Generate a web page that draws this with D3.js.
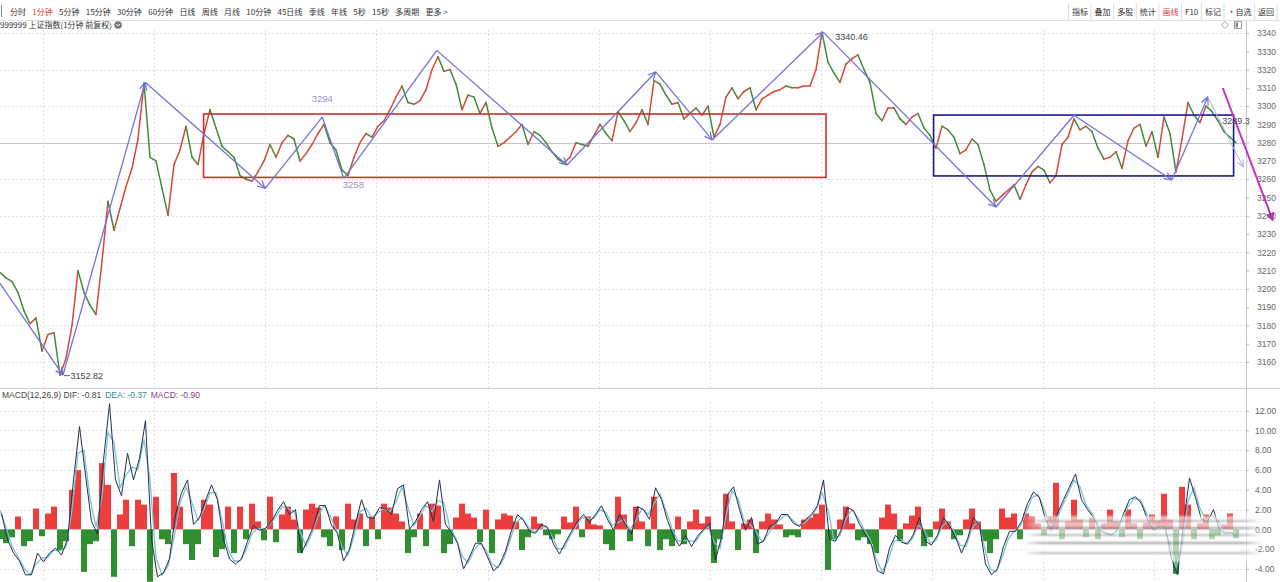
<!DOCTYPE html>
<html><head><meta charset="utf-8">
<script src="https://cdn.jsdelivr.net/npm/d3@7"></script>
<style>
html,body{margin:0;padding:0;background:#fff;overflow:hidden;}
svg{display:block;font-family:"Liberation Sans",Arial,"Noto Sans CJK SC",sans-serif;}
</style></head><body>
<svg id="c" width="1280" height="582"></svg>
<script>
// ---------- data ----------
const closes = [
3209,3206,3204,3198,3188,3181,3184,3166,3175,3176,
3152.82,3162,3180,3210,3198,3191,3186,3215,3248,3232,
3244,3256,3266,3282,3312.6,3272,3270,3255,3240.4,3268,
3276,3289,3272,3268,3285,3298,3288,3278,3275,3272,
3262,3260,3259,3264,3270,3279,3272,3280,3284,3282,
3270,3274,3279,3285,3290,3280,3276,3265,3262,3272,
3280,3285,3283,3289,3292,3298,3305,3311,3302,3301,
3303,3309,3320,3327,3319,3320,3312,3298,3306,3305,
3296,3302,3288,3278,3280,3283,3286,3290,3279,3286,
3284,3280,3275,3271,3269,3272,3280,3279,3278,3284,
3290,3285,3281,3297,3292,3286,3291,3298,3290,3314,
3312,3306,3301,3302,3293,3296,3299,3295,3300,3283,
3290,3305,3310,3304,3308,3310,3298,3304,3306,3308,
3309,3311,3310,3310,3311,3311,3320,3340.46,3324,3318,
3313,3323,3326,3328,3320,3313,3296,3292,3299,3299,
3293,3290,3294,3296,3288,3284,3277,3289,3287,3283,
3274,3276,3282,3279,3268,3254,3248,3251,3254,3257,
3249,3257,3264,3267,3265,3258,3262,3279,3283,3293,
3287,3289,3286,3277,3271,3272,3275,3266,3281,3288,
3290,3278,3286,3272,3294,3285,3264,3282,3302,3295,
3291,3300,3297,3292,3286,3283,3280];

const macdHist = [
-1.0,-1.4,-0.8,1.3,-1.7,-1.2,2.1,-0.7,1.6,2.3,
-2.1,-1.2,4.0,6.0,-4.3,-1.5,-1.2,6.7,4.5,-4.8,
1.5,3.0,-1.7,3.0,2.5,-5.3,3.3,-1.0,-1.5,5.7,
2.3,-1.5,-3.1,-1.5,3.0,2.5,-2.8,-2.0,2.3,-2.4,
2.3,-1.0,2.6,0.8,-1.1,3.3,-1.3,1.5,2.3,1.0,
-2.4,2.0,2.6,2.2,-0.8,-1.7,1.3,-2.1,2.6,1.0,
1.6,-1.7,1.3,-1.0,2.6,2.2,1.6,0.8,-2.4,-0.8,
1.6,-1.7,2.6,2.4,-2.4,-1.5,1.2,2.6,1.6,1.2,
-1.3,2.0,-2.4,1.0,1.6,1.4,0.8,-2.1,-0.8,1.3,
0.6,-0.6,-1.0,-0.5,1.3,0.7,2.3,-0.8,1.3,0.5,
0.4,-1.5,-2.1,3.3,1.5,-1.2,2.3,0.8,-1.7,3.3,
-2.1,-1.0,-1.7,1.3,-1.5,0.8,2.0,0.6,1.3,-3.4,
-1.0,3.6,0.8,-2.1,0.6,1.0,-2.4,0.8,1.6,1.0,
0.5,-0.8,-0.6,-0.8,1.0,1.2,1.6,2.5,-4.1,-1.0,
1.0,2.3,0.6,-1.1,-0.8,-1.5,-2.4,1.2,2.5,1.6,
-1.2,0.6,1.4,2.3,-1.7,-0.8,0.8,2.1,0.8,-1.0,
-0.6,1.0,2.1,0.8,-1.2,-2.4,-1.0,2.1,1.2,1.6,
-1.0,1.6,1.3,0.6,-0.6,1.3,4.7,-1.0,0.8,3.0,
1.0,-0.8,1.2,-1.0,0.6,2.0,0.8,-0.8,2.0,0.6,
-1.0,0.7,1.5,0.9,3.6,1.0,-4.5,4.3,2.5,-1.0,
0.6,1.5,-1.0,-0.6,0.5,1.6,-0.9];

const difLine = [
1.6,-1.0,-2.4,-3.2,-4.6,-4.6,-2.4,-3.3,-2.4,-1.9,
-2.6,-1.0,5.0,10.4,5.5,0.8,-0.5,7.0,12.7,5.0,
3.4,7.7,5.0,7.2,11.0,-1.0,-4.8,-4.4,-3.0,1.5,
3.7,5.0,0.5,1.2,2.9,4.5,3.0,-1.0,-3.0,-3.5,
-3.0,-1.2,0.4,-0.1,0.1,0.8,1.9,2.8,1.5,2.0,
-2.4,-1.1,0.3,2.4,2.4,0.4,-0.4,-3.2,-2.0,0.6,
3.0,1.2,1.1,2.2,2.1,1.5,4.1,4.5,0.0,0.8,
2.0,2.8,0.8,5.0,0.5,-0.3,-1.4,-4.0,-2.8,-1.4,
-1.4,-2.8,-4.2,-3.6,-2.2,-0.1,1.5,0.9,-0.2,-0.4,
0.5,0.2,-1.5,-2.5,-1.3,-0.2,0.8,1.5,0.7,1.5,
2.4,1.0,-0.1,1.5,0.5,-0.5,2.3,2.0,1.0,4.2,
3.0,0.9,-0.7,-1.7,-0.6,-1.75,-0.7,0.0,0.6,-3.1,
-0.8,3.5,4.3,2.0,-0.1,1.2,-1.5,-1.2,0.3,0.6,
1.5,1.5,0.6,0.3,1.0,1.5,2.4,5.0,-1.0,-1.2,
0.0,2.2,1.9,0.5,-0.5,-1.6,-4.2,-4.5,-1.9,-0.6,
-1.3,-1.5,-0.5,1.2,-1.2,-1.6,-0.6,1.2,0.4,-0.8,
-2.4,-1.0,1.2,0.4,-3.5,-4.6,-4.0,-1.75,-0.2,-0.2,
0.8,2.6,3.8,3.2,1.0,-0.1,1.6,3.0,4.3,5.6,
3.0,2.0,1.2,-0.1,-0.4,-0.6,0.0,1.6,3.0,3.3,
2.6,1.0,-0.1,0.3,0.2,-3.0,-4.6,0.5,5.2,3.2,
1.0,0.8,2.0,-0.1,-0.4,-0.3,-0.81];

const deaLine = [
1.9,0.2,-1.7,-2.8,-3.9,-4.6,-3.5,-2.9,-2.8,-2.1,
-2.2,-1.8,2.0,7.7,8.0,3.1,0.2,3.3,9.8,8.8,
4.2,5.5,6.3,6.1,9.1,5.0,-2.9,-4.6,-3.7,-0.8,
2.6,4.3,2.7,0.9,2.0,3.7,3.7,1.0,-2.0,-3.2,
-3.2,-2.1,-0.4,0.1,0.0,0.5,1.3,2.3,2.1,1.8,
-0.2,-1.7,-0.4,1.3,2.4,1.4,0.0,-1.8,-2.6,-0.7,
1.8,2.1,1.2,1.7,2.1,1.8,2.8,4.3,2.2,0.4,
1.4,2.4,1.8,2.9,2.7,0.1,-0.9,-2.7,-3.4,-2.1,
-1.4,-2.1,-3.5,-3.9,-2.9,-1.1,0.7,1.2,0.3,-0.3,
0.1,0.3,-0.7,-2.0,-1.9,-0.7,0.3,1.2,1.1,1.1,
2.0,1.7,0.4,0.7,1.0,0.0,0.9,2.1,1.5,2.6,
3.6,1.9,0.1,-1.2,-1.1,-1.2,-1.2,-0.3,0.3,-1.3,
-1.9,1.4,3.9,3.1,0.9,0.5,-0.2,-1.3,-0.5,0.4,
1.0,1.5,1.0,0.4,0.6,1.2,2.0,3.7,2.0,-1.1,
-0.6,1.1,2.0,1.2,0.0,-1.0,-2.9,-4.3,-3.2,-1.2,
-1.0,-1.4,-1.0,0.4,0.0,-1.4,-1.1,0.3,0.8,-0.2,
-1.6,-1.7,0.1,0.8,-1.6,-4.0,-4.3,-2.9,-1.0,-0.2,
0.3,1.7,3.2,3.5,2.1,0.4,0.8,2.3,3.6,5.0,
4.3,2.5,1.6,0.5,-0.2,-0.5,-0.3,0.8,2.3,3.1,
3.0,1.8,0.4,0.1,0.2,-1.4,-3.8,-2.0,2.9,4.2,
2.1,0.9,1.4,0.9,-0.2,-0.35,-0.37];

const priceTicks = [3160,3170,3180,3190,3200,3210,3220,3230,3240,3250,3260,3270,3280,3290,3300,3310,3320,3330,3340];
const priceGrid = [3160,3180,3200,3220,3240,3260,3300,3320,3340];
const refPrice = 3280;
const macdTicks = [-4,-2,0,2,4,6,8,10,12];
const sessionBreaks = [7.17,25.67,44.17,62.67,81.33,99.83,118.33,136.83,155.33,173.83,192.33];

// zig-zag drawing annotations: bar position, price, arrowhead at this vertex
const zigIdx   = [0,10.5,24.2,44.2,53.7,57.3,72.8,94.5,109.3,118.7,137.2,166,179,195.3,201.3];
const zigPrice = [3203,3152.82,3313,3255,3294,3260.5,3330.5,3267.8,3318.7,3281.5,3340.46,3244.8,3295,3259.6,3305];
const zigArrow = [0,1,1,1,0,0,0,1,1,1,1,1,0,1,1];
const tailIdx = [201.3,207.2], tailPrice = [3305,3266.7];
const trendIdx = [203.8,212.1], trendPrice = [3309.9,3237.7];
const redBox  = {i0:33.93,i1:137.67,p0:3295.7,p1:3261};
const blueBox = {i0:155.6,i1:205.6,p0:3295.1,p1:3261.8};

const periodTabs = ["分时","1分钟","5分钟","15分钟","30分钟","60分钟","日线","周线","月线","10分钟","45日线","季线","年线","5秒","15秒","多周期","更多 >"];
const toolTabs = ["指标","叠加","多股","统计","画线","F10","标记","•自选","返回"];
const titleText = "999999 上证指数(1分钟 前复权)";
const macdLegend = [["MACD(12,26,9) DIF: -0.81","#444"],["DEA: -0.37","#2d8da0"],["MACD: -0.90","#8b3a8b"]];

// ---------- drawing ----------
const svg = d3.select("#c");
const plotR = 1246;
const N = closes.length;
const x = d3.scaleLinear().domain([0, N-1]).range([0, 1236]);
const y = d3.scaleLinear().domain([3160, 3340]).range([362, 33]);
const ym = d3.scaleLinear().domain([-4, 12]).range([568.9, 410.7]);

const defs = svg.append("defs");
defs.append("clipPath").attr("id","cpP").append("rect").attr("x",0).attr("y",30).attr("width",plotR).attr("height",358);
defs.append("clipPath").attr("id","cpM").append("rect").attr("x",0).attr("y",402).attr("width",plotR).attr("height",180);
defs.append("marker").attr("id","arr").attr("viewBox","0 0 10 10").attr("refX",9.5).attr("refY",5)
  .attr("markerUnits","userSpaceOnUse").attr("markerWidth",9).attr("markerHeight",9).attr("orient","auto")
  .append("path").attr("d","M1,1 L9.5,5 L1,9").attr("fill","none").attr("stroke","#7272d6").attr("stroke-width",1.4);
defs.append("marker").attr("id","arrL").attr("viewBox","0 0 10 10").attr("refX",9.5).attr("refY",5)
  .attr("markerUnits","userSpaceOnUse").attr("markerWidth",8).attr("markerHeight",8).attr("orient","auto")
  .append("path").attr("d","M1,1 L9.5,5 L1,9").attr("fill","none").attr("stroke","#a9a9e6").attr("stroke-width",1.3);
defs.append("marker").attr("id","arrM").attr("viewBox","0 0 10 10").attr("refX",8).attr("refY",5)
  .attr("markerUnits","userSpaceOnUse").attr("markerWidth",9).attr("markerHeight",9).attr("orient","auto")
  .append("path").attr("d","M0,0 L10,5 L0,10 Z").attr("fill","#c42fc4");
const blur = defs.append("filter").attr("id","wmblur").attr("x","-20%").attr("y","-50%").attr("width","140%").attr("height","200%");
blur.append("feGaussianBlur").attr("stdDeviation","7 1.2");

// toolbar
svg.append("line").attr("x1",0).attr("x2",1280).attr("y1",20.5).attr("y2",20.5).attr("stroke","#e2e2e2");
svg.append("line").attr("x1",1.5).attr("x2",1.5).attr("y1",5).attr("y2",17).attr("stroke","#888");
let tx = 10;
const tb = svg.append("g").attr("font-family","'Noto Sans CJK SC','Liberation Sans',sans-serif").attr("font-size",8);
periodTabs.forEach((t,k)=>{
  const e = tb.append("text").attr("x",tx).attr("y",14.5).attr("fill", k===1?"#e23b3b":"#333").text(t);
  tx += e.node().getComputedTextLength() + 6.3;
});
let rx = 1068;
tb.append("line").attr("x1",rx+0.5).attr("x2",rx+0.5).attr("y1",3).attr("y2",20).attr("stroke","#ddd");
toolTabs.forEach((t,k)=>{
  const e = tb.append("text").attr("x",rx+4).attr("y",14.5).attr("fill", t==="画线"?"#e23b3b":"#333").text(t);
  rx += e.node().getComputedTextLength() + 6.6;
  tb.append("line").attr("x1",rx+0.5).attr("x2",rx+0.5).attr("y1",3).attr("y2",20).attr("stroke","#ddd");
});
// title row
const tt = tb.append("text").attr("x",0).attr("y",28).attr("fill","#333").text(titleText);
const tEnd = tt.node().getComputedTextLength();
svg.append("circle").attr("cx",tEnd+6).attr("cy",25).attr("r",3.8).attr("fill","#777");
svg.append("path").attr("d",`M${tEnd+4},24 L${tEnd+6},26 L${tEnd+8},24`).attr("fill","none").attr("stroke","#fff").attr("stroke-width",1);
svg.append("path").attr("d","M1225,21.5 L1228.5,25 L1225,28.5 L1221.5,25 Z").attr("fill","none").attr("stroke","#888").attr("stroke-width",0.8);
svg.append("rect").attr("x",1234.5).attr("y",21.5).attr("width",7).attr("height",7).attr("fill","none").attr("stroke","#888").attr("stroke-width",0.8);
svg.append("rect").attr("x",1235.5).attr("y",22.5).attr("width",2.5).attr("height",5).attr("fill","#888");

// grids
const grid = svg.append("g");
grid.selectAll(".hg").data(priceGrid).join("line")
  .attr("x1",0).attr("x2",plotR).attr("y1",d=>Math.round(y(d))+0.5).attr("y2",d=>Math.round(y(d))+0.5)
  .attr("stroke","#e3e3e3").attr("stroke-dasharray","2,2");
grid.append("line").attr("x1",0).attr("x2",plotR).attr("y1",Math.round(y(refPrice))+0.5).attr("y2",Math.round(y(refPrice))+0.5)
  .attr("stroke","#c4c4c4").attr("stroke-width",1.2);
grid.selectAll(".mg").data(macdTicks).join("line")
  .attr("x1",0).attr("x2",plotR).attr("y1",d=>Math.round(ym(d))+0.5).attr("y2",d=>Math.round(ym(d))+0.5)
  .attr("stroke","#e6e6e6").attr("stroke-dasharray","2,2");
grid.selectAll(".vg").data(sessionBreaks).join("line")
  .attr("x1",d=>Math.round(x(d))+0.5).attr("x2",d=>Math.round(x(d))+0.5).attr("y1",30).attr("y2",388)
  .attr("stroke","#e2e2e2").attr("stroke-dasharray","2,2");
grid.selectAll(".vg2").data(sessionBreaks).join("line")
  .attr("x1",d=>Math.round(x(d))+0.5).attr("x2",d=>Math.round(x(d))+0.5).attr("y1",402).attr("y2",582)
  .attr("stroke","#e2e2e2").attr("stroke-dasharray","2,2");

// panel separator & axis line
svg.append("line").attr("x1",0).attr("x2",1280).attr("y1",388.5).attr("y2",388.5).attr("stroke","#cfcfcf");
svg.append("line").attr("x1",plotR+0.5).attr("x2",plotR+0.5).attr("y1",21).attr("y2",582).attr("stroke","#c8c8c8");

// price line (up red / down green)
const pg = svg.append("g").attr("clip-path","url(#cpP)");
pg.selectAll("line").data(d3.range(1,N)).join("line")
  .attr("x1",i=>x(i-1)).attr("y1",i=>y(closes[i-1])).attr("x2",i=>x(i)).attr("y2",i=>y(closes[i]))
  .attr("stroke",i=>closes[i]>=closes[i-1]?"#d24a3a":"#43893a").attr("stroke-width",1.5).attr("stroke-linecap","round");

// boxes
const ann = svg.append("g");
ann.append("rect").attr("x",x(redBox.i0)).attr("y",y(redBox.p0)).attr("width",x(redBox.i1)-x(redBox.i0)).attr("height",y(redBox.p1)-y(redBox.p0))
  .attr("fill","none").attr("stroke","#d52b2b").attr("stroke-width",1.6);
ann.append("rect").attr("x",x(blueBox.i0)).attr("y",y(blueBox.p0)).attr("width",x(blueBox.i1)-x(blueBox.i0)).attr("height",y(blueBox.p1)-y(blueBox.p0))
  .attr("fill","none").attr("stroke","#1b1b8f").attr("stroke-width",1.6);

// zig-zag
d3.range(1, zigIdx.length).forEach(k=>{
  ann.append("line").attr("x1",x(zigIdx[k-1])).attr("y1",y(zigPrice[k-1])).attr("x2",x(zigIdx[k])).attr("y2",y(zigPrice[k]))
    .attr("stroke","#7272d6").attr("stroke-width",1.3).attr("marker-end", zigArrow[k]?"url(#arr)":null);
});
ann.append("line").attr("x1",x(tailIdx[0])).attr("y1",y(tailPrice[0])).attr("x2",x(tailIdx[1])).attr("y2",y(tailPrice[1]))
  .attr("stroke","#a9a9e6").attr("stroke-width",1).attr("marker-end","url(#arrL)");
ann.append("line").attr("x1",x(trendIdx[0])).attr("y1",y(trendPrice[0])).attr("x2",x(trendIdx[1])).attr("y2",y(trendPrice[1]))
  .attr("stroke","#c42fc4").attr("stroke-width",2).attr("marker-end","url(#arrM)");

// annotation labels
const lf = ann.append("g").attr("font-size",9);
lf.append("line").attr("x1",x(10.5)+1).attr("x2",x(10.5)+7).attr("y1",y(3152.82)+0.5).attr("y2",y(3152.82)+0.5).attr("stroke","#666");
lf.append("text").attr("x",x(10.5)+7.5).attr("y",y(3152.82)+4).attr("fill","#444").text("3152.82");
lf.append("text").attr("x",x(53.7)).attr("y",y(3294)-15).attr("text-anchor","middle").attr("fill","#9393c4").attr("font-size",9.5).text("3294");
lf.append("text").attr("x",x(57.3)-1).attr("y",y(3260.5)+10).attr("fill","#9393c4").attr("font-size",9.5).text("3258");
lf.append("text").attr("x",x(137.2)+12).attr("y",y(3340.46)+8).attr("fill","#444").text("3340.46");
lf.append("text").attr("x",x(203.7)).attr("y",y(3289.3)-2).attr("fill","#444").text("3289.3");

// MACD panel
const mg = svg.append("g").attr("clip-path","url(#cpM)");
mg.selectAll("rect").data(macdHist).join("rect")
  .attr("x",(d,i)=>x(i)-3).attr("width",6)
  .attr("y",d=>ym(Math.max(0,d))).attr("height",d=>Math.abs(ym(d)-ym(0)))
  .attr("fill",d=>d>=0?"#ee3d3d":"#2f8f2f");
mg.append("path").datum(deaLine).attr("d",d3.line().x((d,i)=>x(i)).y(d=>ym(d)))
  .attr("fill","none").attr("stroke","#7fc1d6").attr("stroke-width",1.3);
mg.append("path").datum(difLine).attr("d",d3.line().x((d,i)=>x(i)+1.5).y(d=>ym(d)))
  .attr("fill","none").attr("stroke","#22304a").attr("stroke-width",1);

// MACD legend
let lx = 2;
const lg = svg.append("g").attr("font-size",8.5);
macdLegend.forEach(([t,c])=>{
  const e = lg.append("text").attr("x",lx).attr("y",398).attr("fill",c).text(t);
  lx += e.node().getComputedTextLength() + 4;
});

// axes
const ax = svg.append("g").attr("transform",`translate(${plotR},0)`)
  .call(d3.axisRight(y).tickValues(priceTicks).tickSize(3).tickPadding(8).tickFormat(d=>String(d)));
const axm = svg.append("g").attr("transform",`translate(${plotR},0)`)
  .call(d3.axisRight(ym).tickValues(macdTicks).tickSize(3).tickPadding(6).tickFormat(d=>d.toFixed(2)));
[ax,axm].forEach(a=>{
  a.select(".domain").remove();
  a.selectAll("line").attr("stroke","#bbb");
  a.selectAll("text").attr("fill","#666").attr("font-size",8.5).attr("font-family","'Liberation Sans',Arial,sans-serif");
});

// blurred watermark in bottom-right corner
const wm = svg.append("g").attr("filter","url(#wmblur)").attr("opacity",0.8);
wm.append("rect").attr("x",1030).attr("y",516).attr("width",225).attr("height",46).attr("fill","#fff").attr("opacity",0.8);
[520,527,534,542,552].forEach((yy,k)=>{
  wm.append("rect").attr("x",1032).attr("y",yy).attr("width",222).attr("height",2).attr("fill",k%2?"#666":"#999");
});
</script>
</body></html>
